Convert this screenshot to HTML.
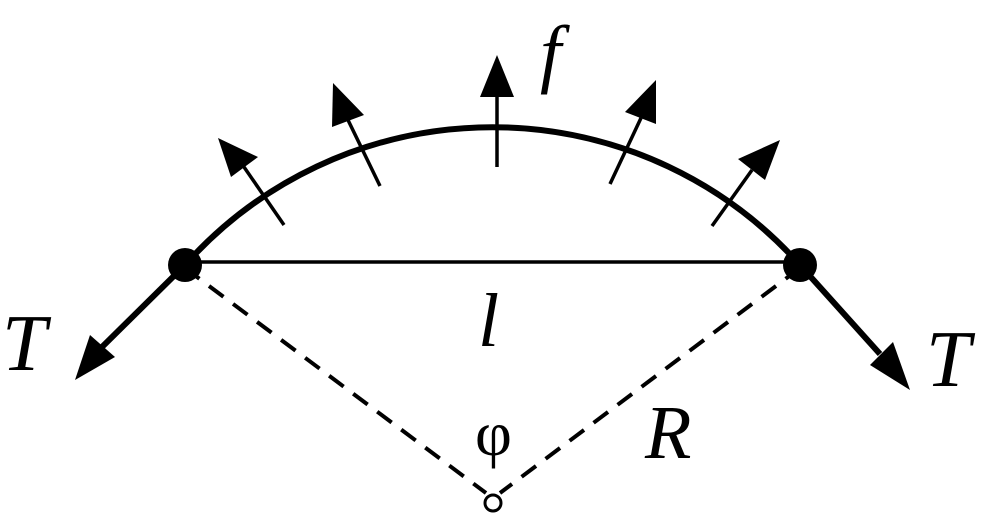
<!DOCTYPE html>
<html><head><style>body{margin:0;background:#fff} text{font-family:"Liberation Serif","DejaVu Serif",serif}</style></head><body>
<svg width="1000" height="518" viewBox="0 0 1000 518" xmlns="http://www.w3.org/2000/svg">
<g stroke="#000" fill="none">
<path d="M185,265 A412,412 0 0 1 800,265" stroke-width="6"/>
<line x1="185" y1="262" x2="800" y2="262" stroke-width="3.5"/>
<line x1="185" y1="268" x2="486" y2="493" stroke-width="4" stroke-dasharray="18,12"/>
<line x1="800" y1="268" x2="500" y2="493" stroke-width="4" stroke-dasharray="18,12"/>
</g>
<g fill="#000">
<circle cx="185" cy="265" r="17"/><circle cx="800" cy="265" r="17"/>
<polygon points="497,55 480,97 514,97"/>
<line x1="497" y1="95" x2="497" y2="167" stroke="#000" stroke-width="3.5"/>
<polygon points="75,380 90,335 115,357"/>
<line x1="185" y1="265" x2="102" y2="347" stroke="#000" stroke-width="6"/>
<polygon points="910,390 870,365 893,342"/>
<line x1="800" y1="265" x2="880" y2="354" stroke="#000" stroke-width="6"/>
<polygon points="218,138 258,157 231,177"/>
<line x1="244" y1="167" x2="284" y2="225" stroke="#000" stroke-width="3.5"/>
<polygon points="333,83 364,115 332,127"/>
<line x1="348" y1="120" x2="380" y2="186" stroke="#000" stroke-width="3.5"/>
<polygon points="656,80 656,124 625,112"/>
<line x1="641" y1="118" x2="610" y2="184" stroke="#000" stroke-width="3.5"/>
<polygon points="780,140 765,180 738,159"/>
<line x1="752" y1="170" x2="712" y2="226" stroke="#000" stroke-width="3.5"/>
</g>
<circle cx="493" cy="503" r="8" fill="#fff" stroke="#000" stroke-width="3"/>
<g fill="#000">
<text x="540" y="78" font-size="76" font-style="italic">f</text>
<text x="2" y="370" font-size="80" font-style="italic">T</text>
<text x="926" y="386" font-size="80" font-style="italic">T</text>
<text x="478" y="346" font-size="76" font-style="italic">l</text>
<text x="475" y="455" font-size="64">φ</text>
<text x="645" y="458" font-size="76" font-style="italic">R</text>
</g>
</svg>
</body></html>
